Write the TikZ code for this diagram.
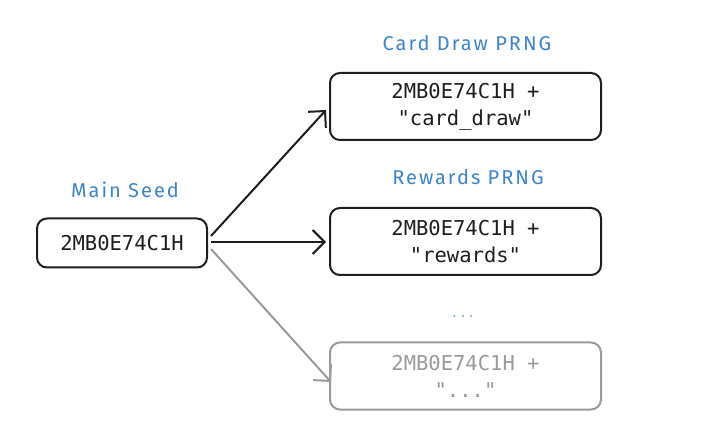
\documentclass[tikz,border=0pt]{standalone}
\usepackage{fontspec}
\setmonofont{DejaVu Sans Mono}
\newfontfamily\labelfont{Fira Sans}[LetterSpace=10]
\usetikzlibrary{arrows.meta}
\definecolor{ink}{HTML}{1E1E1E}
\definecolor{lblue}{HTML}{3D85C6}
\definecolor{fade}{HTML}{9A9A9A}
\tikzset{
  box/.style={draw=ink, line width=2pt, rounded corners=10pt, align=center,
    font=\ttfamily\fontsize{20.5}{27}\selectfont, text=ink, inner sep=0pt},
  fadebox/.style={box, draw=fade, text=fade},
  lbl/.style={text=lblue, font=\labelfont\fontsize{20}{22}\selectfont},
  arr/.style={draw=ink, line width=2pt, -{Straight Barb[length=12pt, width=24pt, line width=2pt]}},
  fadearr/.style={arr, draw=fade}
}
\begin{document}
\begin{tikzpicture}[x=1pt, y=-1pt]
\useasboundingbox (0,0) rectangle (720,435);
\node[box, minimum width=170pt, minimum height=49pt] (seed) at (122,243) {2MB0E74C1H};
\node[lbl] (seedl) at (125,190) {Main Seed};
\node[box, minimum width=271pt, minimum height=67pt] (card) at (465.5,106.5) {2MB0E74C1H +\\"card\_draw"};
\node[lbl] (cardl) at (467,43) {Card Draw PRNG};
\node[box, minimum width=271pt, minimum height=67pt] (rew) at (465.5,241.5) {2MB0E74C1H +\\"rewards"};
\node[lbl] (rewl) at (468,177) {Rewards PRNG};
\node[fadebox, minimum width=271pt, minimum height=67pt] (etc) at (465.5,376) {2MB0E74C1H +\\"..."};
\node[text=lblue!60, font=\ttfamily\fontsize{14}{14}\selectfont] (dots) at (463,316) {...};
\coordinate (s1) at (211,236);
\coordinate (s2) at (211,242);
\coordinate (s3) at (211,249);
\coordinate (e1) at (326,110);
\coordinate (e2) at (326,242);
\coordinate (e3) at (331,382);
\draw[arr] (s1) -- (e1);
\draw[arr] (s2) -- (e2);
\draw[fadearr] (s3) -- (e3);
\end{tikzpicture}
\end{document}
